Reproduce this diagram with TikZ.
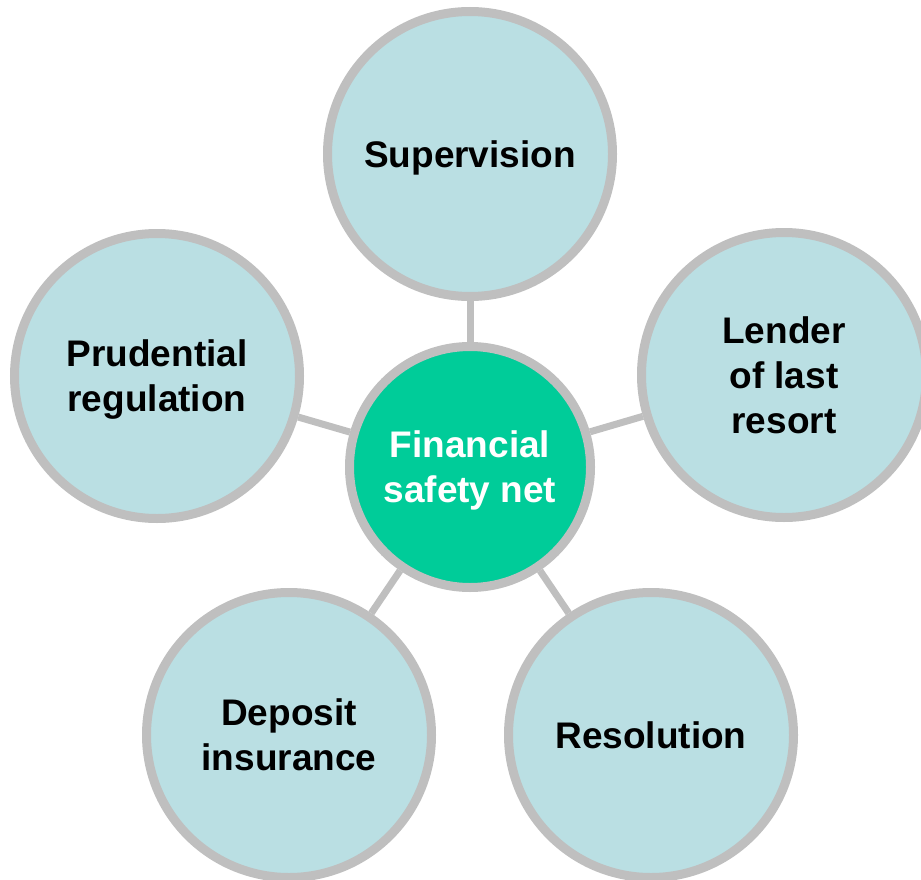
\documentclass[tikz,border=0pt]{standalone}
\usepackage{fontspec}
\setmainfont{Liberation Sans}
\definecolor{ringgray}{HTML}{BFBFBF}
\definecolor{paleblue}{HTML}{BADFE3}
\definecolor{netgreen}{HTML}{00CC99}

\begin{document}
\begin{tikzpicture}[x=1pt,y=-1pt,
                    outer node/.style={circle,draw=ringgray,line width=9pt,fill=paleblue,
                      minimum size=285pt,inner sep=0pt,align=center,text depth=0pt,
                      font=\fontsize{37}{45}\selectfont\bfseries},
                    core node/.style={outer node,fill=netgreen,minimum size=241pt,text=white}]
  \useasboundingbox (0,0) rectangle (921,880);
  \node[core node] (c) at (470,467) {Financial\\safety net};
  \node[outer node] (1) at (470,154) {Supervision};
  \node[outer node] (2) at (784,375) {Lender\\of last\\resort};
  \node[outer node] (3) at (651,735) {Resolution};
  \node[outer node] (4) at (289,735) {Deposit\\insurance};
  \node[outer node] (5) at (157,376) {Prudential\\regulation};
  \path[every edge/.style={draw=ringgray,line width=7pt}]
    (c) edge (1)
    (c) edge (2)
    (c) edge (3)
    (c) edge (4)
    (c) edge (5)
    ;
\end{tikzpicture}
\end{document}
